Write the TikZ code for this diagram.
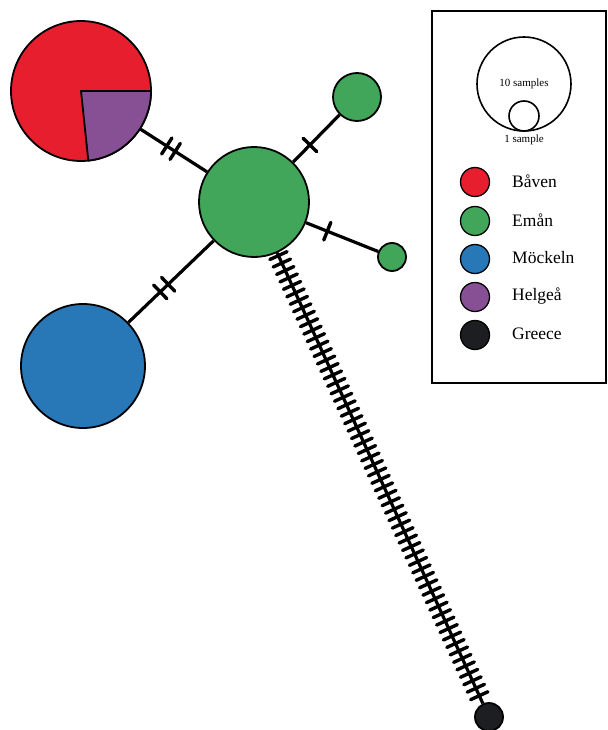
\documentclass[tikz,border=0pt]{standalone}
\usepackage{fontspec}
\setmainfont{Liberation Serif}
\usetikzlibrary{decorations.markings,backgrounds}
\definecolor{cred}{RGB}{230,30,46}
\definecolor{cpurple}{RGB}{136,80,148}
\definecolor{cgreen}{RGB}{66,166,90}
\definecolor{cblue}{RGB}{40,120,184}
\definecolor{cblack}{RGB}{28,30,33}
\newcommand\tkmk{\draw[line width=3.4pt,line cap=round] (0pt,-9.5pt) -- (0pt,9.5pt);}
\tikzset{
  hap/.style={circle,draw=black,line width=1.8pt,inner sep=0pt,minimum size=#1},
  edge/.style={line width=3.2pt},
  leg/.style={circle,draw=black,line width=1.3pt,inner sep=0pt,minimum size=29pt},
  legtxt/.style={anchor=west,font=\fontsize{17.5}{19}\selectfont,inner sep=0pt},
}
\begin{document}
\begin{tikzpicture}[x=1pt,y=-1pt]
\useasboundingbox (0,0) rectangle (607,730);
% haplotypes
\node[hap=140pt,fill=cred] (baven) at (81,91) {};
\filldraw[fill=cpurple,draw=black,line width=1.8pt,line join=round] (81,91) -- ++(70pt,0pt) arc[start angle=0,end angle=-84,radius=70pt] -- cycle;
\node[hap=110pt,fill=cgreen] (eman) at (254,202) {};
\node[hap=48pt,fill=cgreen] (gtop) at (357,97) {};
\node[hap=28pt,fill=cgreen] (gright) at (392,257) {};
\node[hap=124pt,fill=cblue] (mock) at (83,366) {};
\node[hap=28pt,fill=cblack] (greece) at (489,717) {};
% connectors
\begin{scope}[on background layer]
\draw[edge,postaction={decorate,decoration={markings,
   mark=at position 31pt with {\tkmk},
   mark=at position 41pt with {\tkmk}}}] (baven) -- (eman);
\draw[edge,postaction={decorate,decoration={markings,
   mark=at position 63pt with {\tkmk},
   mark=at position 74pt with {\tkmk}}}] (eman) -- (mock);
\draw[edge,postaction={decorate,decoration={markings,
   mark=at position 24pt with {\tkmk}}}] (eman) -- (gtop);
\draw[edge,postaction={decorate,decoration={markings,
   mark=at position 23pt with {\tkmk}}}] (eman) -- (gright);
\draw[edge,postaction={decorate,decoration={markings,
   mark=between positions 3pt and -3pt step 8.2pt with {\tkmk}}}] (eman) -- (greece);
\end{scope}
% legend
\node[draw=black,line width=1.5pt,minimum width=174pt,minimum height=372pt,inner sep=0pt] (box) at (519,197) {};
\node[circle,draw=black,line width=1.6pt,inner sep=0pt,minimum size=94pt] (big) at (524,84) {};
\node[circle,draw=black,line width=1.6pt,inner sep=0pt,minimum size=30pt] (small) at (524,116) {};
\node[font=\fontsize{11}{13}\selectfont] (t10) at (524,84) {10 samples};
\node[font=\fontsize{11}{13}\selectfont] (t1) at (524,139.5) {1 sample};
\node[leg,fill=cred] (l1) at (475,182) {};
\node[legtxt] (l1t) at (512,181) {Båven};
\node[leg,fill=cgreen] (l2) at (475,221) {};
\node[legtxt] (l2t) at (512,220) {Emån};
\node[leg,fill=cblue] (l3) at (475,259) {};
\node[legtxt] (l3t) at (512,258) {Möckeln};
\node[leg,fill=cpurple] (l4) at (475,297) {};
\node[legtxt] (l4t) at (512,296) {Helgeå};
\node[leg,fill=cblack] (l5) at (475,335) {};
\node[legtxt] (l5t) at (512,334) {Greece};
\end{tikzpicture}
\end{document}
